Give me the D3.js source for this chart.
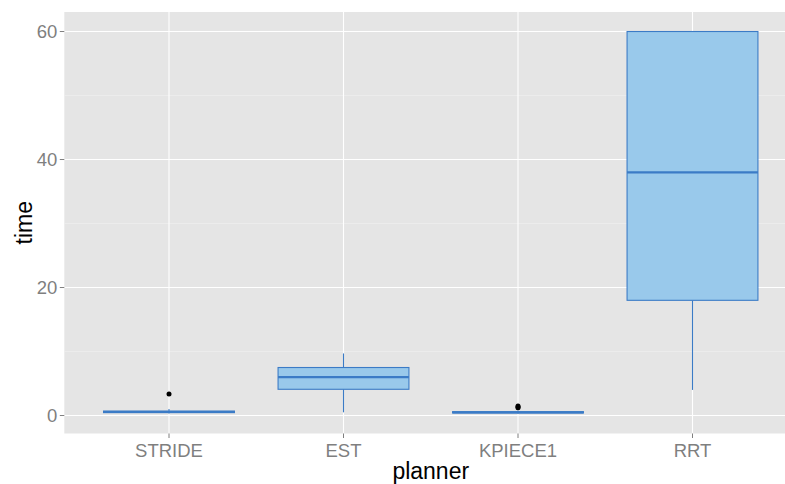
<!DOCTYPE html>
<html>
<head>
<meta charset="utf-8">
<script src="https://cdn.jsdelivr.net/npm/d3@7"></script>
<style>
  html, body { margin: 0; padding: 0; background: #ffffff; }
  svg { display: block; font-family: "Liberation Sans", Arial, Helvetica, sans-serif; }
</style>
</head>
<body>
<svg id="chart" width="785" height="484"></svg>
<script>
// ---- data ----
const planners = ["STRIDE", "EST", "KPIECE1", "RRT"];
const whiskerLow = [0.3, 0.5, 0.3, 4.0];
const q1 = [0.45, 4.1, 0.4, 18.0];
const median = [0.55, 6.0, 0.5, 38.0];
const q3 = [0.7, 7.5, 0.6, 60.0];
const whiskerHigh = [1.0, 9.7, 0.8, 60.0];
const outliers = [[3.35], [], [1.2, 1.35, 1.5], []];
const yTicks = [0, 20, 40, 60];
const yMinorTicks = [10, 30, 50];

// ---- layout ----
const svg = d3.select("#chart");
const x = d3.scalePoint().domain(planners).range([169, 692.5]);
const step = x.step();
const panelLeft = x(planners[0]) - 0.6 * step;
const panelRight = x(planners[planners.length - 1]) + 0.6 * step;
const panelTop = 12, panelBottom = 433.5;
const y = d3.scaleLinear().domain([-2.81, 63.05]).range([panelBottom, panelTop]);
const boxW = 0.75 * step;

const fill = "#99c9eb";
const stroke = "#3b7bc6";

// panel background
svg.append("rect")
  .attr("x", panelLeft).attr("y", panelTop)
  .attr("width", panelRight - panelLeft).attr("height", panelBottom - panelTop)
  .attr("fill", "#e5e5e5");

// minor gridlines
svg.append("g").selectAll("line").data(yMinorTicks).join("line")
  .attr("x1", panelLeft).attr("x2", panelRight)
  .attr("y1", d => y(d)).attr("y2", d => y(d))
  .attr("stroke", "#f2f2f2").attr("stroke-width", 0.6);

// major gridlines
svg.append("g").selectAll("line").data(yTicks).join("line")
  .attr("x1", panelLeft).attr("x2", panelRight)
  .attr("y1", d => y(d)).attr("y2", d => y(d))
  .attr("stroke", "#ffffff").attr("stroke-width", 1.1);
svg.append("g").selectAll("line").data(planners).join("line")
  .attr("y1", panelTop).attr("y2", panelBottom)
  .attr("x1", d => x(d)).attr("x2", d => x(d))
  .attr("stroke", "#ffffff").attr("stroke-width", 1.1);

// boxes
const boxes = svg.append("g").selectAll("g").data(planners).join("g");
boxes.append("line")
  .attr("x1", d => x(d)).attr("x2", d => x(d))
  .attr("y1", (d, i) => y(whiskerLow[i])).attr("y2", (d, i) => y(q1[i]))
  .attr("stroke", stroke).attr("stroke-width", 1.1);
boxes.append("line")
  .attr("x1", d => x(d)).attr("x2", d => x(d))
  .attr("y1", (d, i) => y(q3[i])).attr("y2", (d, i) => y(whiskerHigh[i]))
  .attr("stroke", stroke).attr("stroke-width", 1.1);
boxes.append("rect")
  .attr("x", d => x(d) - boxW / 2).attr("width", boxW)
  .attr("y", (d, i) => y(q3[i])).attr("height", (d, i) => y(q1[i]) - y(q3[i]))
  .attr("fill", fill).attr("stroke", stroke).attr("stroke-width", 1.1);
boxes.append("line")
  .attr("x1", d => x(d) - boxW / 2).attr("x2", d => x(d) + boxW / 2)
  .attr("y1", (d, i) => y(median[i])).attr("y2", (d, i) => y(median[i]))
  .attr("stroke", stroke).attr("stroke-width", 2.2);
boxes.each(function (d, i) {
  d3.select(this).selectAll("circle").data(outliers[i]).join("circle")
    .attr("cx", x(d)).attr("cy", v => y(v)).attr("r", 2.5)
    .attr("fill", "#000000");
});

// axes ticks
const tickCol = "#7f7f7f";
svg.append("g").selectAll("line").data(yTicks).join("line")
  .attr("x1", panelLeft - 4.5).attr("x2", panelLeft)
  .attr("y1", d => y(d)).attr("y2", d => y(d))
  .attr("stroke", tickCol).attr("stroke-width", 1);
svg.append("g").selectAll("line").data(planners).join("line")
  .attr("x1", d => x(d)).attr("x2", d => x(d))
  .attr("y1", panelBottom).attr("y2", panelBottom + 4.5)
  .attr("stroke", tickCol).attr("stroke-width", 1);

// tick labels
svg.append("g").selectAll("text").data(yTicks).join("text")
  .attr("x", panelLeft - 7).attr("y", d => y(d))
  .attr("dy", "0.35em").attr("text-anchor", "end")
  .attr("font-size", 18.5).attr("fill", tickCol)
  .text(d => d);
svg.append("g").selectAll("text").data(planners).join("text")
  .attr("x", d => x(d)).attr("y", 456.5)
  .attr("text-anchor", "middle")
  .attr("font-size", 18.5).attr("fill", tickCol)
  .text(d => d);

// axis titles
svg.append("text")
  .attr("x", (panelLeft + panelRight) / 2).attr("y", 478.5)
  .attr("text-anchor", "middle").attr("font-size", 23).attr("fill", "#000")
  .text("planner");
svg.append("text")
  .attr("transform", `translate(31.5, ${(panelTop + panelBottom) / 2}) rotate(-90)`)
  .attr("text-anchor", "middle").attr("font-size", 23).attr("fill", "#000")
  .text("time");
</script>
</body>
</html>
